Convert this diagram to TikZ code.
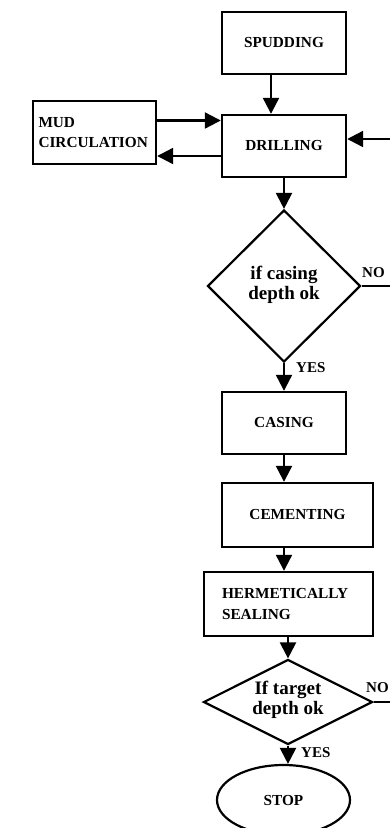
\documentclass[tikz,border=0pt]{standalone}
\usepackage{fontspec}
\setmainfont{Liberation Serif}
\usetikzlibrary{shapes.geometric,arrows.meta,calc}
\begin{document}
\begin{tikzpicture}[x=1pt,y=-1pt,
  box/.style={draw,line width=2.4pt,rectangle,inner sep=0pt,font=\bfseries\fontsize{15.3}{20.5}\selectfont,align=center},
  dec/.style={draw,line width=2.2pt,diamond,inner sep=0pt,font=\bfseries\fontsize{19}{20}\selectfont,align=center},
  lbl/.style={font=\bfseries\fontsize{15}{18}\selectfont,inner sep=0pt,anchor=west},
  arr/.style={line width=2.2pt,-{Triangle[width=16pt,length=16pt]}},
  ln/.style={line width=2.2pt}]
\useasboundingbox (0,0) rectangle (390,828);
\clip (0,0) rectangle (390,828);

\node[box,minimum width=124pt,minimum height=62pt] (spud) at (284,43) {SPUDDING};
\node[box,minimum width=124pt,minimum height=62pt] (drill) at (284,146) {DRILLING};
\node[box,minimum width=123pt,minimum height=63pt,text width=112pt,inner xsep=5.5pt,align=left] (mud) at (94.5,132.5) {MUD\\CIRCULATION};
\node[dec,minimum width=153pt,minimum height=152pt] (d1) at (284,286) {};
\node[font=\bfseries\fontsize{19}{20}\selectfont,align=center,inner sep=0pt] (t1) at (284,285) {if casing\\depth ok};
\node[box,minimum width=124pt,minimum height=62pt] (cas) at (284,423) {CASING};
\node[box,minimum width=151pt,minimum height=64pt] (cem) at (297.5,515) {CEMENTING};
\node[box,minimum width=169pt,minimum height=64pt,text width=133pt,inner xsep=18pt,align=left] (herm) at (288.5,604) {HERMETICALLY\\SEALING};
\node[dec,minimum width=169pt,minimum height=85pt] (d2) at (288,702) {};
\node[font=\bfseries\fontsize{19}{20}\selectfont,align=center,inner sep=0pt] (t2) at (288,700) {If target\\depth ok};
\node[draw,line width=2.2pt,ellipse,minimum width=133pt,minimum height=70pt,inner sep=0pt,font=\bfseries\fontsize{15.3}{18}\selectfont] (stop) at (283.5,800) {STOP};

\coordinate (rr) at (400,139);

\draw[arr] ([xshift=-13pt]spud.south) -- ([xshift=-13pt]drill.north);
\draw[arr] ([yshift=12pt]mud.east) -- ([yshift=12pt]mud.east -| drill.west);
\draw[arr] ([yshift=-10pt]drill.west) -- ([yshift=-10pt]drill.west -| mud.east);
\draw[arr] (rr) -- (rr -| drill.east);
\draw[arr] (drill.south) -- (d1.north);
\draw[ln] (d1.east) -- (d1.east -| rr);
\draw[arr] (d1.south) -- (cas.north);
\draw[arr] (cas.south) -- (cas.south |- cem.north);
\draw[arr] (cem.south -| cas.south) -- (herm.north -| cas.south);
\draw[arr] (herm.south -| d2.north) -- (d2.north);
\draw[ln] (d2.east) -- (d2.east -| rr);
\draw[arr] (d2.south) -- (d2.south |- stop.north);

\node[lbl] (no1) at (362,273) {NO};
\node[lbl] (yes1) at (296,368) {YES};
\node[lbl] (no2) at (366,688) {NO};
\node[lbl] (yes2) at (301,753) {YES};
\end{tikzpicture}
\end{document}
